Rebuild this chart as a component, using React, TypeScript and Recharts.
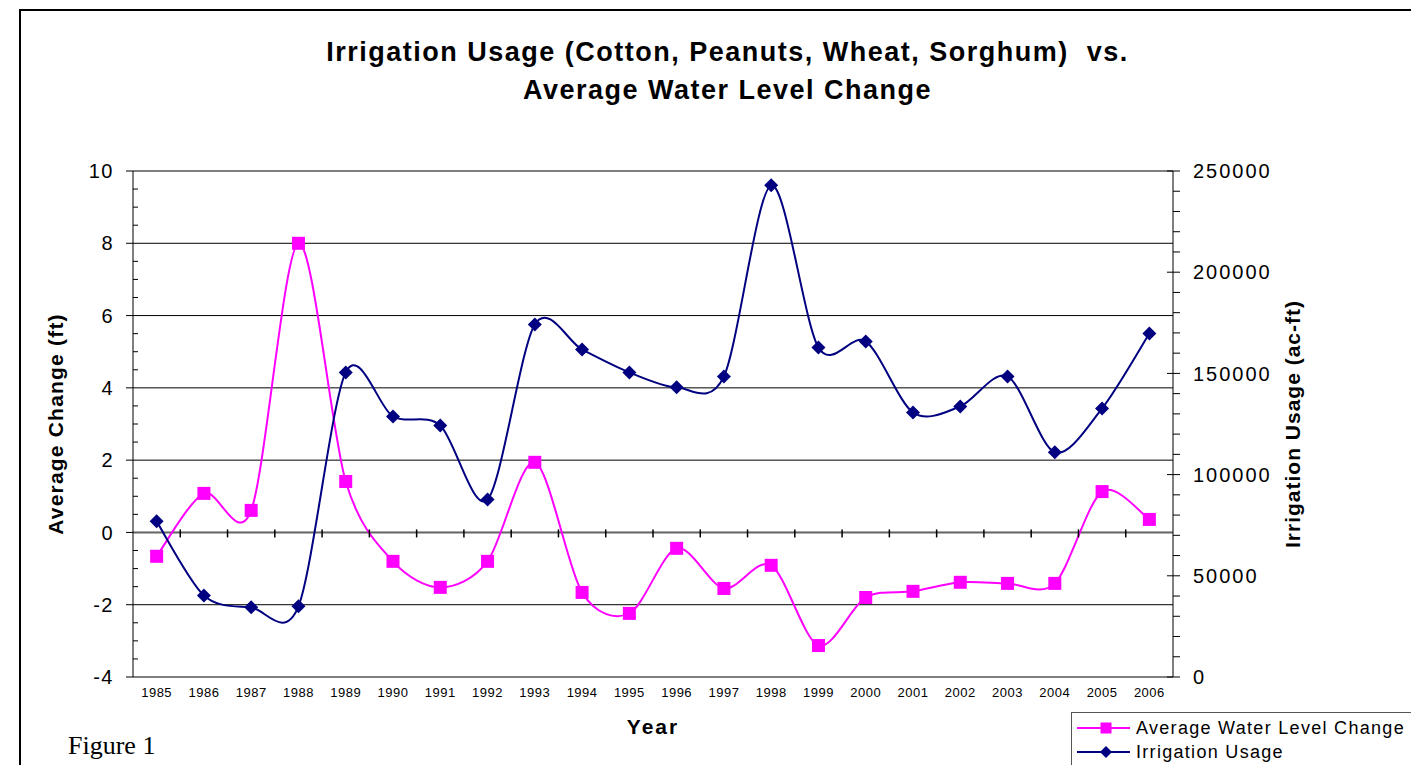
import React from 'react';
import { LineChart, Line, XAxis, YAxis, CartesianGrid, ReferenceLine, Legend } from 'recharts';

const years = ['1985', '1986', '1987', '1988', '1989', '1990', '1991', '1992', '1993', '1994', '1995',
  '1996', '1997', '1998', '1999', '2000', '2001', '2002', '2003', '2004', '2005', '2006'];
const waterLevelChange = [-0.66, 1.08, 0.61, 8.0, 1.41, -0.8, -1.52, -0.8, 1.94, -1.66, -2.24,
  -0.44, -1.55, -0.91, -3.13, -1.8, -1.63, -1.38, -1.41, -1.41, 1.13, 0.36];
const irrigationUsage = [76900, 40300, 34400, 34900, 150500, 128700, 124300, 87700, 174200, 161800, 150500,
  143100, 148500, 242900, 162800, 165800, 130700, 133700, 148500, 111000, 132700, 169700];
const leftTicks = [-4, -2, 0, 2, 4, 6, 8, 10];
const leftMinorTicks = Array.from({ length: 29 }, (_, i) => -4 + i * 0.5);
const rightMinorTicks = Array.from({ length: 26 }, (_, i) => i * 10000);

const data = years.map((year, i) => ({
  year,
  change: waterLevelChange[i],
  usage: irrigationUsage[i],
}));

const PINK = '#FF00FF';
const NAVY = '#000080';
const FONT = '"Liberation Sans", Arial, sans-serif';
const TICK_SIZE = 7;
const LEFT_MARGIN = 12;
const RIGHT_MARGIN = 13;

const CHART_W = 1411;
const CHART_H = 765;
const MARGIN = { top: 171, right: 98, bottom: 30, left: 53 };
const LEFT_AXIS_W = 80;
const RIGHT_AXIS_W = 140;
const X_AXIS_H = 58;
const PLOT_W = CHART_W - MARGIN.left - MARGIN.right - LEFT_AXIS_W - RIGHT_AXIS_W;
const BAND = PLOT_W / years.length;

// smoothed line through every point, roughly like Excel's smoothed series
const smoothCurve = (context: any) => {
  let pts: number[][] = [];
  const k = 0.15;
  return {
    areaStart() {},
    areaEnd() {},
    lineStart() { pts = []; },
    point(x: number, y: number) { pts.push([+x, +y]); },
    lineEnd() {
      const n = pts.length;
      if (!n) return;
      context.moveTo(pts[0][0], pts[0][1]);
      for (let i = 0; i < n - 1; i++) {
        const p0 = pts[i === 0 ? 0 : i - 1];
        const p1 = pts[i];
        const p2 = pts[i + 1];
        const p3 = pts[i + 2 < n ? i + 2 : n - 1];
        context.bezierCurveTo(
          p1[0] + (p2[0] - p0[0]) * k, p1[1] + (p2[1] - p0[1]) * k,
          p2[0] - (p3[0] - p1[0]) * k, p2[1] - (p3[1] - p1[1]) * k,
          p2[0], p2[1]);
      }
    },
  };
};

const SquareDot = (props: any) => {
  const { cx, cy, index } = props;
  if (cx == null || cy == null) return <g key={`sq-${index}`} />;
  return <rect key={`sq-${index}`} x={cx - 6.5} y={cy - 6.5} width={13} height={13} fill={PINK} />;
};

const DiamondDot = (props: any) => {
  const { cx, cy, index } = props;
  if (cx == null || cy == null) return <g key={`dm-${index}`} />;
  return <polygon key={`dm-${index}`} points={`${cx},${cy - 7} ${cx + 7},${cy} ${cx},${cy + 7} ${cx - 7},${cy}`} fill={NAVY} />;
};

const LeftTick = (props: any) => {
  const { x, y, payload } = props;
  const value = Number(payload.value);
  const axisX = Number(x) + TICK_SIZE + LEFT_MARGIN;
  const major = value % 2 === 0;
  const isZero = Math.abs(value) < 1e-9;
  return (
    <g>
      {major
        ? <line x1={axisX - TICK_SIZE} x2={axisX} y1={y} y2={y} stroke="#000" />
        : <line x1={axisX} x2={axisX + 5} y1={y} y2={y} stroke="#000" />}
      {major && (
        <text x={x} y={y} dy="0.36em" textAnchor="end" fontSize={20} letterSpacing={1.5} fontFamily={FONT} fill="#000">
          {payload.value}
        </text>
      )}
      {/* the category axis crosses at 0: tick marks between the years */}
      {isZero && years.slice(1).map((yr, i) => (
        <line
          key={yr}
          x1={axisX + BAND * (i + 1)}
          x2={axisX + BAND * (i + 1)}
          y1={Number(y) - 3}
          y2={Number(y) + 5}
          stroke="#000"
          strokeWidth={1.5}
        />
      ))}
    </g>
  );
};

const RightTick = (props: any) => {
  const { x, y, payload } = props;
  const axisX = Number(x) - TICK_SIZE - RIGHT_MARGIN;
  const major = Number(payload.value) % 50000 === 0;
  return (
    <g>
      <line x1={major ? axisX - 6 : axisX} x2={axisX + TICK_SIZE} y1={y} y2={y} stroke="#000" />
      {major && (
        <text x={x} y={y} dy="0.36em" textAnchor="start" fontSize={20} letterSpacing={2} fontFamily={FONT} fill="#000">
          {payload.value}
        </text>
      )}
    </g>
  );
};

const LegendBox = (props: any) => {
  const items = props.payload || [];
  return (
    <div style={{
      width: 360, height: 56, border: '1px solid #555', background: '#fff', paddingTop: 3,
      boxSizing: 'border-box', fontFamily: FONT, fontSize: 18, letterSpacing: '1.3px', color: '#000',
    }}>
      {items.map((item: any) => (
        <div key={item.value} style={{ display: 'flex', alignItems: 'center', height: 24 }}>
          <svg width={53} height={24} style={{ marginLeft: 5 }}>
            <line x1={0} x2={53} y1={12} y2={12} stroke={item.color} strokeWidth={2} />
            {item.dataKey === 'change'
              ? <rect x={23.5} y={6.5} width={11} height={11} fill={item.color} />
              : <polygon points="29,6 35,12 29,18 23,12" fill={item.color} />}
          </svg>
          <span style={{ marginLeft: 6, whiteSpace: 'nowrap' }}>{item.value}</span>
        </div>
      ))}
    </div>
  );
};

export default function App() {
  return (
    <div style={{ position: 'absolute', left: 0, top: 0, width: CHART_W, height: CHART_H, overflow: 'hidden', background: '#fff' }}>
      <div style={{
        position: 'absolute', left: 19, top: 9, width: 1500, height: 800,
        borderLeft: '2px solid #000', borderTop: '2px solid #000',
      }} />
      <div style={{
        position: 'absolute', left: 22, top: 33, width: CHART_W, textAlign: 'center',
        fontFamily: FONT, fontWeight: 'bold', fontSize: 27, lineHeight: '38px', letterSpacing: '1.5px', color: '#000',
      }}>
        <div>Irrigation Usage (Cotton, Peanuts, Wheat, Sorghum)&nbsp; vs.</div>
        <div>Average Water Level Change</div>
      </div>
      <div style={{
        position: 'absolute', left: 68, top: 733, fontFamily: '"Liberation Serif", "Times New Roman", serif',
        fontSize: 26, lineHeight: '26px', color: '#000',
      }}>
        Figure 1
      </div>
      <div style={{ position: 'absolute', left: 0, top: 0 }}>
        <LineChart width={CHART_W} height={CHART_H} data={data} margin={MARGIN}>
          <CartesianGrid yAxisId="left" vertical={false} horizontalValues={leftTicks} stroke="#000" strokeWidth={1} />
          <XAxis
            dataKey="year"
            scale="band"
            interval={0}
            tickLine={false}
            axisLine={false}
            tickSize={6}
            tickMargin={5}
            height={X_AXIS_H}
            tick={{ fontSize: 13, fill: '#000', fontFamily: FONT, letterSpacing: 0.5 }}
            label={{ value: 'Year', position: 'insideBottom', offset: 1, fontSize: 21, fontWeight: 'bold', fill: '#000', fontFamily: FONT, letterSpacing: 2 }}
          />
          <YAxis
            yAxisId="left"
            domain={[-4, 10]}
            ticks={leftMinorTicks}
            interval={0}
            width={LEFT_AXIS_W}
            tickSize={TICK_SIZE}
            tickMargin={LEFT_MARGIN}
            tickLine={false}
            axisLine={{ stroke: '#000' }}
            tick={<LeftTick />}
            label={{
              value: 'Average Change (ft)', angle: -90, position: 'insideLeft', offset: 8, dx: -5,
              style: { textAnchor: 'middle', fontSize: 21, fontWeight: 'bold', fill: '#000', fontFamily: FONT, letterSpacing: 1.2 },
            }}
          />
          <YAxis
            yAxisId="right"
            orientation="right"
            domain={[0, 250000]}
            ticks={rightMinorTicks}
            interval={0}
            width={RIGHT_AXIS_W}
            tickSize={TICK_SIZE}
            tickMargin={RIGHT_MARGIN}
            tickLine={false}
            axisLine={{ stroke: '#000' }}
            tick={<RightTick />}
            label={{
              value: 'Irrigation Usage (ac-ft)', angle: -90, position: 'insideRight', offset: 15, dx: -5,
              style: { textAnchor: 'middle', fontSize: 21, fontWeight: 'bold', fill: '#000', fontFamily: FONT, letterSpacing: 1 },
            }}
          />
          <ReferenceLine yAxisId="left" y={0} stroke="#666" strokeWidth={2} />
          <Line
            yAxisId="left"
            dataKey="change"
            name="Average Water Level Change"
            type={smoothCurve as any}
            stroke={PINK}
            strokeWidth={2}
            dot={SquareDot}
            activeDot={false}
            isAnimationActive={false}
          />
          <Line
            yAxisId="right"
            dataKey="usage"
            name="Irrigation Usage"
            type={smoothCurve as any}
            stroke={NAVY}
            strokeWidth={2}
            dot={DiamondDot}
            activeDot={false}
            isAnimationActive={false}
          />
          <Legend
            layout="vertical"
            align="center"
            verticalAlign="middle"
            content={<LegendBox />}
            wrapperStyle={{ position: 'absolute', left: 1071, top: 712, width: 360, right: 'auto', bottom: 'auto' }}
          />
        </LineChart>
      </div>
    </div>
  );
}
